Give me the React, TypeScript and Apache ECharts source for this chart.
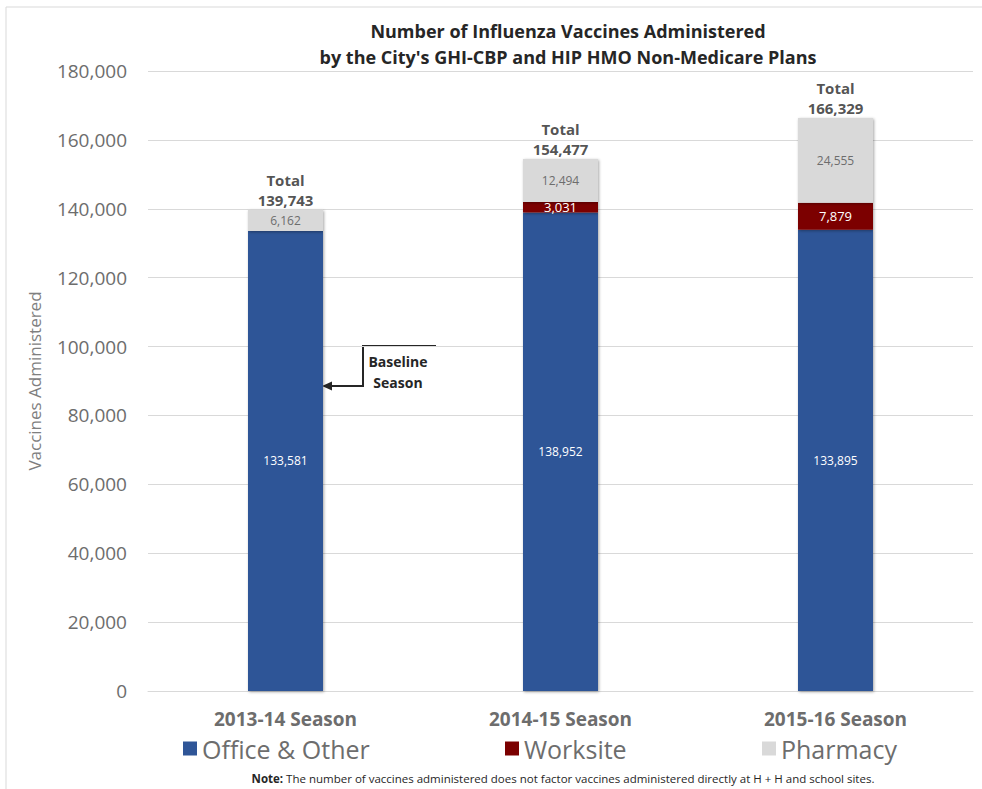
import React, { useEffect, useRef } from "react";
import * as echarts from "echarts";

const categories = ["2013-14 Season", "2014-15 Season", "2015-16 Season"];
const officeOther = [133581, 138952, 133895];
const worksite = [null, 3031, 7879];
const pharmacy = [6162, 12494, 24555];
const totals = [139743, 154477, 166329];
const yTicks = [0, 20000, 40000, 60000, 80000, 100000, 120000, 140000, 160000, 180000];

const FONT = "'Open Sans', 'Noto Sans', sans-serif";
const fmt = (v: number) => v.toLocaleString("en-US");

export default function App() {
  const ref = useRef<HTMLDivElement>(null);
  useEffect(() => {
    if (!ref.current) return;
    const chart = echarts.init(ref.current, null, { renderer: "svg" });
    const shadow = {
      shadowBlur: 3,
      shadowOffsetX: 1,
      shadowOffsetY: 1,
      shadowColor: "rgba(0,0,0,0.35)",
    };
    const legendText = { fontFamily: FONT, fontSize: 25, color: "#6d6d6d" };
    chart.setOption({
      animation: false,
      backgroundColor: "#ffffff",
      textStyle: { fontFamily: FONT },
      title: {
        text: "Number of Influenza Vaccines Administered\nby the City's GHI-CBP and HIP HMO Non-Medicare Plans",
        left: 563,
        top: 13,
        textAlign: "center",
        textStyle: { fontFamily: FONT, fontSize: 18, fontWeight: "bold", color: "#262626", lineHeight: 26 },
      },
      grid: { left: 148, right: 9, top: 71, bottom: 98, containLabel: false },
      legend: [
        {
          data: ["Office & Other"],
          left: 183,
          top: 736,
          padding: 0,
          itemWidth: 14,
          itemHeight: 14,
          icon: "rect",
          textStyle: legendText,
        },
        {
          data: ["Worksite"],
          left: 505,
          top: 736,
          padding: 0,
          itemWidth: 14,
          itemHeight: 14,
          icon: "rect",
          textStyle: legendText,
        },
        {
          data: ["Pharmacy"],
          left: 762,
          top: 736,
          padding: 0,
          itemWidth: 14,
          itemHeight: 14,
          icon: "rect",
          textStyle: legendText,
        },
      ],
      xAxis: {
        type: "category",
        data: categories,
        axisLine: { show: true, lineStyle: { color: "#d9d9d9", width: 1 } },
        axisTick: { show: false },
        axisLabel: { margin: 18, fontFamily: FONT, fontSize: 19, fontWeight: "bold", color: "#6d6d6d" },
      },
      yAxis: {
        type: "value",
        min: 0,
        max: 180000,
        interval: 20000,
        name: "Vaccines Administered",
        nameLocation: "middle",
        nameGap: 105,
        nameRotate: 90,
        nameTextStyle: { fontFamily: FONT, fontSize: 17, color: "#7f7f7f" },
        axisLine: { show: false },
        axisTick: { show: false },
        splitLine: { lineStyle: { color: "#d9d9d9", width: 1 } },
        axisLabel: {
          margin: 21,
          fontFamily: FONT,
          fontSize: 19,
          color: "#6d6d6d",
          formatter: (v: number) => (yTicks.includes(v) ? fmt(v) : ""),
        },
      },
      series: [
        {
          name: "Office & Other",
          type: "bar",
          stack: "total",
          data: officeOther,
          barWidth: 75,
          itemStyle: { color: "#2f5597", ...shadow },
          label: {
            show: true,
            position: "inside",
            color: "#ffffff",
            fontFamily: FONT,
            fontSize: 12,
            formatter: (p: any) => fmt(p.value),
          },
        },
        {
          name: "Worksite",
          type: "bar",
          stack: "total",
          data: worksite,
          barWidth: 75,
          itemStyle: { color: "#7b0000", ...shadow },
          label: {
            show: true,
            position: "inside",
            color: "#ffffff",
            fontFamily: FONT,
            fontSize: 13,
            formatter: (p: any) => (p.value == null ? "" : fmt(p.value)),
          },
        },
        {
          name: "Pharmacy",
          type: "bar",
          stack: "total",
          data: pharmacy,
          barWidth: 75,
          itemStyle: { color: "#d9d9d9", ...shadow },
          label: {
            show: true,
            position: "inside",
            color: "#6d6d6d",
            fontFamily: FONT,
            fontSize: 12,
            formatter: (p: any) => fmt(p.value),
          },
        },
        {
          name: "Total",
          type: "scatter",
          data: totals,
          symbolSize: 0,
          silent: true,
          label: {
            show: true,
            position: "top",
            distance: 0,
            color: "#262626",
            fontFamily: FONT,
            fontSize: 15,
            fontWeight: "bold",
            lineHeight: 20,
            formatter: (p: any) => "Total\n" + fmt(p.value),
          },
        },
      ],
      graphic: [
        { type: "line", shape: { x1: 6, y1: 7, x2: 982, y2: 7 }, style: { stroke: "#d9d9d9", lineWidth: 1 } },
        { type: "line", shape: { x1: 6, y1: 7, x2: 6, y2: 789 }, style: { stroke: "#d9d9d9", lineWidth: 1 } },
        {
          type: "polyline",
          shape: { points: [[436, 346], [363, 346], [363, 386], [330, 386]] },
          style: { stroke: "#262626", lineWidth: 2, fill: null },
        },
        {
          type: "polygon",
          shape: { points: [[322, 386], [332, 381.5], [332, 390.5]] },
          style: { fill: "#262626" },
        },
        {
          type: "text",
          x: 398,
          y: 372,
          style: {
            text: "Baseline\nSeason",
            font: "bold 14px " + FONT,
            fill: "#262626",
            align: "center",
            verticalAlign: "middle",
            lineHeight: 21,
          },
        },
        {
          type: "text",
          x: 563,
          y: 778,
          style: {
            text: "{b|Note:} The number of vaccines administered does not factor vaccines administered directly at H + H and school sites.",
            align: "center",
            verticalAlign: "middle",
            rich: {
              b: { fontFamily: FONT, fontSize: 11.5, fontWeight: "bold", fill: "#262626", color: "#262626" },
            },
            font: "11.5px " + FONT,
            fill: "#262626",
          },
        },
      ],
    });
    return () => chart.dispose();
  }, []);
  return <div ref={ref} style={{ width: 982, height: 789, position: "absolute", left: 0, top: 0 }} />;
}
